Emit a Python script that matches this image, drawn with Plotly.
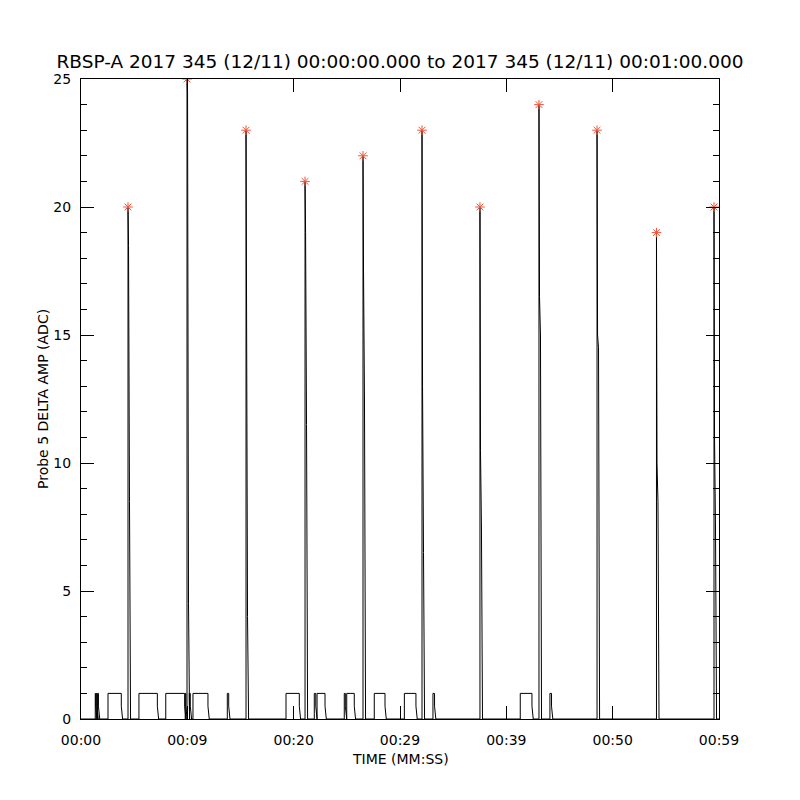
import plotly.graph_objects as go

# peak events (seconds from 00:00:00) and the ADC levels on the way down
spike_t = [4.42, 9.97, 15.52, 21.07, 26.52, 32.07, 37.52, 43.07, 48.53, 54.12, 59.53]
spike_peak = [20, 25, 23, 21, 22, 23, 20, 24, 23, 19, 20]
spike_fall1 = [18.5, 24.5, 14, 19, 17.5, 13, 10.5, 16.5, 15, 10, 11]
spike_fall2 = [8.5, 4.5, 4, 11.5, 12.5, 6.5, 7.5, 15, 14.5, 8.5, 7.5]

# low level (1 ADC) pulses: on / off times in seconds
pulse_on = [1.34, 1.44, 1.56, 2.54, 5.45, 7.97, 9.80, 10.18, 10.53, 13.76, 19.28,
            21.94, 22.20, 24.76, 24.99, 27.58, 30.41, 33.10, 41.31, 44.10]
pulse_off = [1.38, 1.50, 1.64, 3.79, 7.18, 9.75, 9.86, 10.28, 11.94, 13.89, 20.53,
             22.08, 22.95, 24.86, 25.70, 28.59, 31.50, 33.25, 42.41, 44.25]

tick_vals = [0, 10, 20, 30, 40, 50, 60]
tick_text = ["00:00", "00:09", "00:20", "00:29", "00:39", "00:50", "00:59"]

title = "RBSP-A 2017 345 (12/11) 00:00:00.000 to 2017 345 (12/11) 00:01:00.000"

# build the trace from the events, in time order
events = []
for t, p, f1, f2 in zip(spike_t, spike_peak, spike_fall1, spike_fall2):
    events.append((t, [t, t, t + 0.05, t + 0.14, t + 0.24], [0, p, f1, f2, 0]))
for a, b in zip(pulse_on, pulse_off):
    events.append((a, [a, a, b, b, b + 0.12], [0, 1, 1, 0.5, 0]))
events.sort(key=lambda e: e[0])

xs, ys = [0], [0]
for _, ex, ey in events:
    xs += ex
    ys += ey
xs.append(60)
ys.append(0)

fig = go.Figure()
fig.add_trace(go.Scatter(x=xs, y=ys, mode="lines",
                         line=dict(color="black", width=1), hoverinfo="skip"))
fig.add_trace(go.Scatter(x=spike_t, y=spike_peak, mode="markers",
                         marker=dict(symbol="asterisk-open", size=8,
                                     line=dict(color="red", width=1))))

# page body adds an 8px offset, margins compensate for it
axis_font = dict(family="DejaVu Sans", size=14, color="black")
fig.update_layout(
    width=800, height=800,
    showlegend=False,
    plot_bgcolor="white", paper_bgcolor="white",
    margin=dict(l=73, r=89, t=71, b=89),
    title=dict(text=title, x=392 / 800, xanchor="center", y=1 - 54 / 800, yanchor="middle",
               font=dict(family="DejaVu Sans", size=18.5, color="black")),
    xaxis=dict(range=[0, 60], tickvals=tick_vals, ticktext=tick_text,
               showgrid=False, zeroline=False, showline=True, linecolor="black",
               linewidth=1, mirror="ticks", ticks="inside", ticklen=13,
               tickcolor="black", tickfont=axis_font, ticklabelstandoff=8),
    yaxis=dict(range=[0, 25], dtick=5, tick0=0,
               showgrid=False, zeroline=False, showline=True, linecolor="black",
               linewidth=1, mirror="ticks", ticks="inside", ticklen=13,
               tickcolor="black", tickfont=axis_font, ticklabelstandoff=6,
               minor=dict(dtick=1, ticks="inside", ticklen=6, tickcolor="black",
                          showgrid=False)),
    annotations=[
        dict(text="TIME (MM:SS)", xref="paper", yref="paper", x=0.5, y=-40 / 640,
             xanchor="center", yanchor="middle", showarrow=False,
             font=dict(family="DejaVu Sans", size=14, color="black")),
        dict(text="Probe 5 DELTA AMP (ADC)", xref="paper", yref="paper",
             x=-38 / 638, y=0.5, textangle=-90, xanchor="center", yanchor="middle",
             showarrow=False, font=dict(family="DejaVu Sans", size=14, color="black")),
    ],
)

fig.write_html("out.html")
